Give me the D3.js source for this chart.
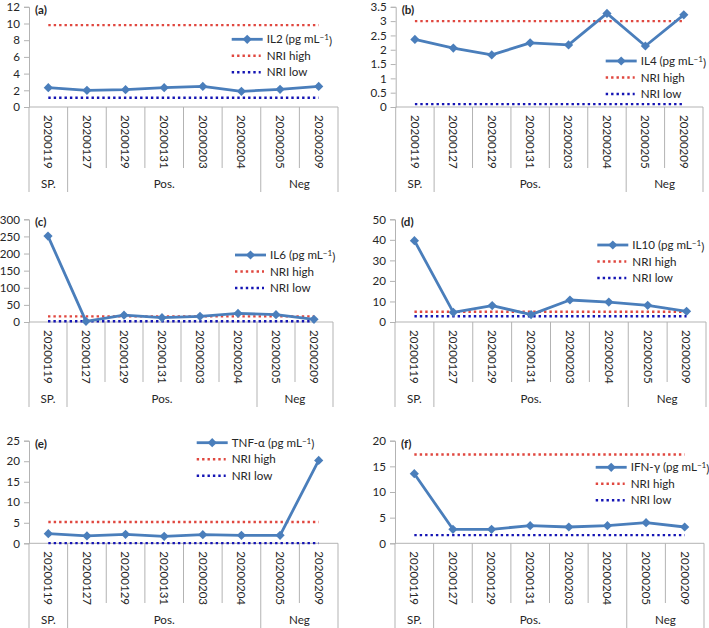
<!DOCTYPE html>
<html>
<head>
<meta charset="utf-8">
<script src="https://cdn.jsdelivr.net/npm/d3@7"></script>
<style>
  html, body { margin: 0; padding: 0; background: #fff; }
  svg { display: block; }
  text { font-family: Lato, "Open Sans", sans-serif; fill: #262626; }
</style>
</head>
<body>
<svg id="chart" width="709" height="628"></svg>
<script>
// ---------- data ----------
const categories = ["20200119","20200127","20200129","20200131","20200203","20200204","20200205","20200209"];
const groupNames = ["SP.", "Pos.", "Neg"];
const groupSizes = [1, 5, 2];

const il2  = [2.31, 2.00, 2.08, 2.31, 2.47, 1.88, 2.12, 2.47];
const il4  = [2.36, 2.06, 1.82, 2.24, 2.17, 3.27, 2.13, 3.22];
const il6  = [251, 2, 20, 12.7, 16.5, 25, 21.4, 7.8];
const il10 = [39.6, 4.7, 8.0, 3.6, 10.7, 9.7, 8.1, 5.2];
const tnf  = [2.35, 1.79, 2.19, 1.70, 2.11, 1.95, 1.95, 20.2];
const ifn  = [13.57, 2.73, 2.73, 3.44, 3.18, 3.44, 4.03, 3.18];

const seriesNames = ["IL2", "IL4", "IL6", "IL10", "TNF-\u03b1", "IFN-\u03b3"];
const panelLetters = ["(a)", "(b)", "(c)", "(d)", "(e)", "(f)"];
const nriHigh = [9.8, 3.0, 16.5, 5.0, 5.2, 17.3];
const nriLow  = [1.1, 0.1, 2.0, 2.8, 0.05, 1.6];
const yMaxes  = [12, 3.5, 300, 50, 25, 20];
const yTickSteps = [2, 0.5, 50, 10, 5, 5];
const seriesValues = [il2, il4, il6, il10, tnf, ifn];

// ---------- layout ----------
const rows = [
  { top: 6.8,   zero: 107,   cellsEnd: 168, groupEnd: 192, groupText: 184 },
  { top: 219.3, zero: 322,   cellsEnd: 382, groupEnd: 407, groupText: 399 },
  { top: 440.7, zero: 543.3, cellsEnd: 603, groupEnd: 630, groupText: 620 }
];
const panels = [
  { row: 0, x0: 29,    x1: 338,   lx: 231.7, ly: 39.3 },
  { row: 0, x0: 395.7, x1: 703,   lx: 605.7, ly: 61 },
  { row: 1, x0: 29,    x1: 333,   lx: 235,   ly: 255 },
  { row: 1, x0: 395,   x1: 706,   lx: 597.3, ly: 245 },
  { row: 2, x0: 29,    x1: 338,   lx: 196.7, ly: 442.7 },
  { row: 2, x0: 395,   x1: 704,   lx: 595.7, ly: 467.3 }
];

const blue = "#4a7ebb";
const red = "#e0473f";
const navy = "#1414b4";
const grid = "#b3b3b3";
const fs = 11.6;

const svg = d3.select("#chart");

function diamond(g, x, y, r) {
  g.append("path")
    .attr("d", `M${x},${y - r}L${x + r},${y}L${x},${y + r}L${x - r},${y}Z`)
    .attr("fill", blue);
}

panels.forEach((p, i) => {
  const r = rows[p.row];
  const g = svg.append("g");
  const x = d3.scaleBand().domain(categories).range([p.x0, p.x1]).paddingInner(0).paddingOuter(0);
  const cx = c => x(c) + x.bandwidth() / 2;
  const y = d3.scaleLinear().domain([0, yMaxes[i]]).range([r.zero, r.top]);
  const ticks = d3.range(0, yMaxes[i] + yTickSteps[i] / 2, yTickSteps[i]);

  // y axis
  const yAxis = d3.axisLeft(y).tickValues(ticks).tickSize(5).tickPadding(4)
    .tickFormat(d => d3.format("~g")(+d.toFixed(2)));
  const ya = g.append("g").attr("transform", `translate(${p.x0},0)`).call(yAxis);
  ya.select(".domain").attr("stroke", grid).attr("stroke-width", 1);
  ya.selectAll(".tick line").attr("stroke", grid);
  ya.selectAll(".tick text").attr("font-size", fs).attr("font-family", "Lato, sans-serif").attr("fill", "#262626");

  // x axis line
  g.append("line").attr("x1", p.x0).attr("x2", p.x1).attr("y1", r.zero).attr("y2", r.zero)
    .attr("stroke", grid).attr("stroke-width", 1);

  // category dividers
  const groupBounds = [0];
  groupSizes.reduce((acc, s) => { groupBounds.push(acc + s); return acc + s; }, 0);
  for (let k = 0; k <= categories.length; k++) {
    const xx = k < categories.length ? x(categories[k]) : p.x1;
    const isGroup = groupBounds.includes(k);
    g.append("line").attr("x1", xx).attr("x2", xx)
      .attr("y1", r.zero).attr("y2", isGroup ? r.groupEnd : r.cellsEnd)
      .attr("stroke", grid).attr("stroke-width", 1);
  }

  // category labels (rotated)
  categories.forEach(c => {
    g.append("text")
      .attr("transform", `translate(${cx(c)},${r.zero + 8}) rotate(90)`)
      .attr("dy", "0.36em")
      .attr("font-size", fs)
      .text(c);
  });

  // group labels
  groupNames.forEach((name, k) => {
    const a = groupBounds[k], b = groupBounds[k + 1];
    const xa = x(categories[a]);
    const xb = b < categories.length ? x(categories[b]) : p.x1;
    g.append("text")
      .attr("x", (xa + xb) / 2).attr("y", r.groupText)
      .attr("dy", "0.36em").attr("text-anchor", "middle")
      .attr("font-size", fs).text(name);
  });

  // NRI lines
  const xa = cx(categories[0]), xb = cx(categories[categories.length - 1]);
  g.append("line").attr("x1", xa).attr("x2", xb)
    .attr("y1", y(nriHigh[i])).attr("y2", y(nriHigh[i]))
    .attr("stroke", red).attr("stroke-width", 2.4).attr("stroke-dasharray", "2.4,3");
  g.append("line").attr("x1", xa).attr("x2", xb)
    .attr("y1", y(nriLow[i])).attr("y2", y(nriLow[i]))
    .attr("stroke", navy).attr("stroke-width", 2.4).attr("stroke-dasharray", "2.4,3");

  // series line
  const vals = seriesValues[i];
  const line = d3.line().x((d, k) => cx(categories[k])).y(d => y(d));
  g.append("path").attr("d", line(vals)).attr("fill", "none")
    .attr("stroke", blue).attr("stroke-width", 2.8).attr("stroke-linejoin", "round");
  vals.forEach((v, k) => diamond(g, cx(categories[k]), y(v), 4.6));

  // panel letter
  g.append("text").attr("x", p.x0 + 6).attr("y", r.top + 3).attr("dy", "0.36em")
    .attr("font-size", fs).attr("font-weight", "bold").text(panelLetters[i]);

  // legend
  const lg = g.append("g");
  const rowH = 16.5;
  lg.append("line").attr("x1", p.lx).attr("x2", p.lx + 31).attr("y1", p.ly).attr("y2", p.ly)
    .attr("stroke", blue).attr("stroke-width", 2.8);
  diamond(lg, p.lx + 15.5, p.ly, 4.6);
  lg.append("line").attr("x1", p.lx).attr("x2", p.lx + 29).attr("y1", p.ly + rowH).attr("y2", p.ly + rowH)
    .attr("stroke", red).attr("stroke-width", 2.4).attr("stroke-dasharray", "2.4,3");
  lg.append("line").attr("x1", p.lx).attr("x2", p.lx + 29).attr("y1", p.ly + 2 * rowH).attr("y2", p.ly + 2 * rowH)
    .attr("stroke", navy).attr("stroke-width", 2.4).attr("stroke-dasharray", "2.4,3");

  const t1 = lg.append("text").attr("x", p.lx + 35).attr("y", p.ly).attr("dy", "0.36em").attr("font-size", fs);
  t1.append("tspan").text(seriesNames[i] + " (pg mL");
  t1.append("tspan").attr("dy", "-0.4em").attr("font-size", fs * 0.7).text("\u22121");
  t1.append("tspan").attr("dy", "0.4em").text(")");
  lg.append("text").attr("x", p.lx + 35).attr("y", p.ly + rowH).attr("dy", "0.36em").attr("font-size", fs).text("NRI high");
  lg.append("text").attr("x", p.lx + 35).attr("y", p.ly + 2 * rowH).attr("dy", "0.36em").attr("font-size", fs).text("NRI low");
});
</script>
</body>
</html>
